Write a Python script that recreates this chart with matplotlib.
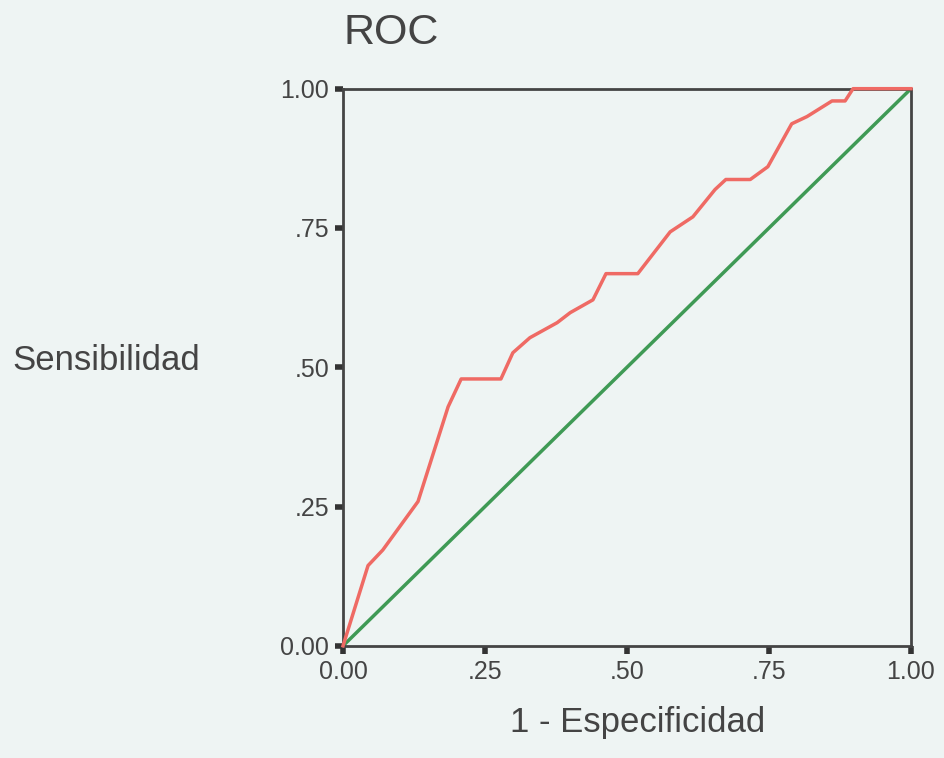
import matplotlib
matplotlib.use("Agg")
import matplotlib.pyplot as plt

# ROC curve points
fpr = [0.0, 0.044, 0.07, 0.132, 0.185, 0.208, 0.278, 0.299, 0.329, 0.377,
       0.400, 0.44, 0.463, 0.519, 0.576, 0.616, 0.655, 0.674, 0.717, 0.748,
       0.790, 0.817, 0.861, 0.884, 0.898, 1.0]
tpr = [0.0, 0.144, 0.172, 0.259, 0.429, 0.479, 0.479, 0.526, 0.553, 0.580,
       0.598, 0.621, 0.668, 0.668, 0.743, 0.770, 0.819, 0.837, 0.837, 0.860,
       0.937, 0.950, 0.978, 0.978, 1.0, 1.0]
ref_line = [0.0, 1.0]

ticks = [0.0, 0.25, 0.5, 0.75, 1.0]
tick_labels = ["0.00", ".25", ".50", ".75", "1.00"]

bg = "#eef4f3"
plt.rcParams["font.family"] = ["Liberation Sans", "DejaVu Sans"]

fig = plt.figure(figsize=(9.45, 7.58), dpi=100, facecolor=bg)
ax = fig.add_axes([0.363, 0.148, 0.601, 0.735], facecolor=bg)

ax.plot(ref_line, ref_line, color="#3f9a55", lw=2.5, solid_capstyle="butt")
ax.plot(fpr, tpr, color="#ef6a64", lw=2.5, zorder=3, clip_on=False)

ax.set_xlim(0, 1)
ax.set_ylim(0, 1)
ax.set_xticks(ticks)
ax.set_xticklabels(tick_labels)
ax.set_yticks(ticks)
ax.set_yticklabels(tick_labels)
ax.tick_params(direction="out", length=6, width=4, color="#333333",
               labelsize=18, labelcolor="#444444", pad=4)
for s in ax.spines.values():
    s.set_color("#444444")
    s.set_linewidth(2)

fig.text(0.414, 0.956, "ROC", fontsize=31, color="#444444",
         ha="center", va="center")
fig.text(0.013, 0.524, "Sensibilidad", fontsize=25, color="#444444",
         ha="left", va="center")
fig.text(0.675, 0.047, "1 - Especificidad", fontsize=25, color="#444444",
         ha="center", va="center")

fig.savefig("out.png", dpi=100, facecolor=bg)
